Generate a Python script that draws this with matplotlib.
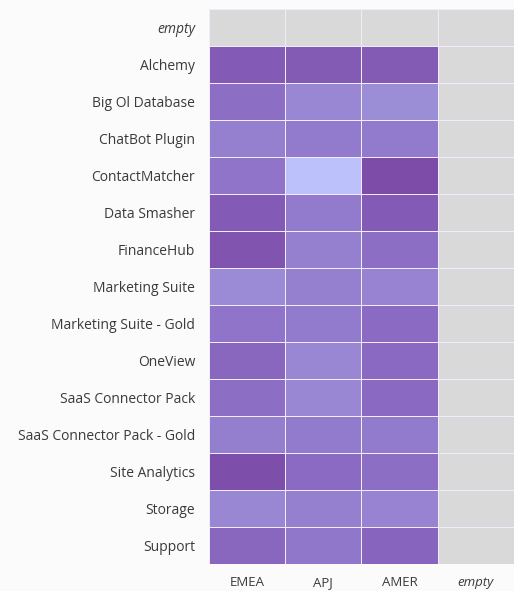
import numpy as np
import matplotlib.pyplot as plt
from matplotlib.colors import LinearSegmentedColormap

products = ["Alchemy", "Big Ol Database", "ChatBot Plugin", "ContactMatcher",
            "Data Smasher", "FinanceHub", "Marketing Suite", "Marketing Suite - Gold",
            "OneView", "SaaS Connector Pack", "SaaS Connector Pack - Gold",
            "Site Analytics", "Storage", "Support"]
regions = ["EMEA", "APJ", "AMER"]

emea = [85, 65, 50, 60, 85, 92, 42, 60, 72, 65, 52, 98, 45, 72]
apj = [84, 45, 55, 0, 55, 50, 50, 55, 45, 45, 55, 68, 50, 58]
amer = [84, 40, 55, 100, 85, 65, 48, 68, 70, 70, 55, 65, 48, 75]

row_labels = ["empty"] + products
col_labels = regions + ["empty"]

grid = np.full((len(row_labels), len(col_labels)), np.nan)
grid[1:, 0] = emea
grid[1:, 1] = apj
grid[1:, 2] = amer

cmap = LinearSegmentedColormap.from_list(
    "purp", ["#bcc1fc", "#a095dc", "#8b6cc4", "#7c4ca8"])
cmap.set_bad("#d9d9d9")

plt.rcParams['font.family'] = ['Open Sans', 'DejaVu Sans']

fig = plt.figure(figsize=(5.14, 5.91), dpi=100, facecolor="#fbfbfb")
ax = fig.add_axes([0.4066, 0.0457, 0.5934, 0.9391])
ax.pcolormesh(np.ma.masked_invalid(grid), cmap=cmap, vmin=0, vmax=100,
              edgecolor="#f1ecfb", linewidth=0.7)
ax.set_xlim(0, len(col_labels))
ax.set_ylim(len(row_labels), 0)

ax.set_xticks(np.arange(len(col_labels)) + 0.5)
ax.set_xticklabels(col_labels, fontsize=9.5, color="#3a3a3a")
ax.set_yticks(np.arange(len(row_labels)) + 0.5)
ax.set_yticklabels(row_labels, fontsize=10, color="#3a3a3a")
ax.xaxis.get_ticklabels()[-1].set_style("italic")
ax.yaxis.get_ticklabels()[0].set_style("italic")
ax.tick_params(length=0, pad=10)
ax.tick_params(axis="x", pad=9)
for s in ax.spines.values():
    s.set_visible(False)

fig.savefig("out.png", dpi=100, facecolor=fig.get_facecolor())
